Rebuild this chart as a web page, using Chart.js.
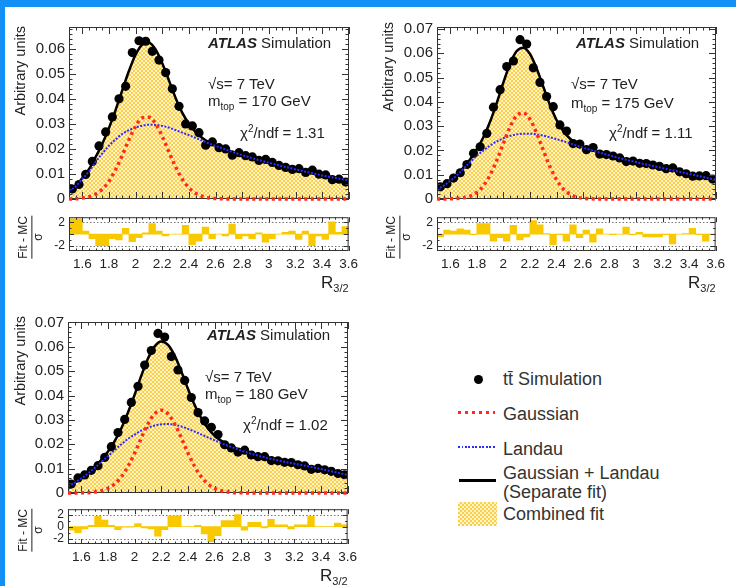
<!DOCTYPE html>
<html>
<head>
<meta charset="utf-8">
<script src="https://cdn.jsdelivr.net/npm/chart.js@4.4.0/dist/chart.umd.min.js"></script>
<style>
  html, body { margin: 0; padding: 0; background: #fff; }
  #page { position: relative; width: 736px; height: 586px; overflow: hidden;
          font-family: "Liberation Sans", Arial, sans-serif; color: #222; }
  .bar-top { position: absolute; left: 0; top: 0; width: 736px; height: 7px; background: #1390f5; }
  .bar-left { position: absolute; left: 0; top: 0; width: 5px; height: 586px; background: #1390f5; }
  canvas { position: absolute; }
  .t { position: absolute; white-space: nowrap; font-size: 15px; line-height: 1; }
  .t sub, .t sup { font-size: 10px; line-height: 0; }
  .atlas b { font-style: italic; }
  .vert { position: absolute; writing-mode: vertical-rl; transform: rotate(180deg);
          white-space: nowrap; font-size: 14.5px; line-height: 1; }
  .frac { position: absolute; writing-mode: vertical-rl; transform: rotate(180deg);
          font-size: 12px; line-height: 1.1; text-align: center; }
  .frac span { display: block; }
  .frac .num { border-block-end: 1px solid #222; padding-block-end: 1px; }
  .rlab { position: absolute; font-size: 17px; line-height: 1; white-space: nowrap; }
  .rlab sub { font-size: 11px; line-height: 0; }
  .leg { position: absolute; font-size: 18px; line-height: 1; white-space: nowrap; color: #333; }
  .sym { position: absolute; }
</style>
</head>
<body>
<div id="page">
  <div class="bar-top"></div>
  <div class="bar-left"></div>

  <canvas id="main170" width="354" height="198" style="left:9px;top:14px"></canvas>
  <canvas id="ratio170" width="354" height="69" style="left:9px;top:206px"></canvas>
  <canvas id="main175" width="353" height="198" style="left:377px;top:14px"></canvas>
  <canvas id="ratio175" width="353" height="69" style="left:377px;top:206px"></canvas>
  <canvas id="main180" width="354" height="197" style="left:8px;top:309px"></canvas>
  <canvas id="ratio180" width="354" height="70" style="left:8px;top:498px"></canvas>

  <!-- panel 1 -->
  <div class="vert" style="left:13px;top:26px">Arbitrary units</div>
  <div class="frac" style="left:17px;top:216px"><span class="num">Fit - MC</span><span>σ</span></div>
  <div class="t atlas" style="left:208px;top:35px"><b>ATLAS</b> Simulation</div>
  <div class="t" style="left:208px;top:76px">√s= 7 TeV</div>
  <div class="t" style="left:208px;top:93px">m<sub>top</sub> = 170 GeV</div>
  <div class="t" style="left:240px;top:125px">χ<sup>2</sup>/ndf = 1.31</div>
  <div class="rlab" style="left:321px;top:274px">R<sub>3/2</sub></div>

  <!-- panel 2 -->
  <div class="vert" style="left:381px;top:22px">Arbitrary units</div>
  <div class="frac" style="left:385px;top:216px"><span class="num">Fit - MC</span><span>σ</span></div>
  <div class="t atlas" style="left:576px;top:35px"><b>ATLAS</b> Simulation</div>
  <div class="t" style="left:571px;top:76px">√s= 7 TeV</div>
  <div class="t" style="left:571px;top:95px">m<sub>top</sub> = 175 GeV</div>
  <div class="t" style="left:609px;top:125px">χ<sup>2</sup>/ndf = 1.11</div>
  <div class="rlab" style="left:688px;top:274px">R<sub>3/2</sub></div>

  <!-- panel 3 -->
  <div class="vert" style="left:13px;top:316px">Arbitrary units</div>
  <div class="frac" style="left:17px;top:509px"><span class="num">Fit - MC</span><span>σ</span></div>
  <div class="t atlas" style="left:207px;top:327px"><b>ATLAS</b> Simulation</div>
  <div class="t" style="left:205px;top:369px">√s= 7 TeV</div>
  <div class="t" style="left:205px;top:386px">m<sub>top</sub> = 180 GeV</div>
  <div class="t" style="left:243px;top:417px">χ<sup>2</sup>/ndf = 1.02</div>
  <div class="rlab" style="left:320px;top:567px">R<sub>3/2</sub></div>

  <!-- legend -->
  <div class="sym" style="left:474px;top:375px;width:9px;height:9px;border-radius:50%;background:#000"></div>
  <div class="leg" style="left:503px;top:370px">tt̄ Simulation</div>
  <div class="sym" style="left:458px;top:411px;width:37px;height:3px;background:repeating-linear-gradient(90deg,#ff2a1a 0 3px,transparent 3px 7px)"></div>
  <div class="leg" style="left:503px;top:405px">Gaussian</div>
  <div class="sym" style="left:458px;top:446px;width:37px;height:2px;background:repeating-linear-gradient(90deg,#2b2bff 0 2px,transparent 2px 3.5px)"></div>
  <div class="leg" style="left:503px;top:440px">Landau</div>
  <div class="sym" style="left:459px;top:479px;width:37px;height:3px;background:#000"></div>
  <div class="leg" style="left:503px;top:464px">Gaussian + Landau</div>
  <div class="leg" style="left:503px;top:483px">(Separate fit)</div>
  <div class="sym" style="left:458px;top:502px;width:39px;height:24px;background:repeating-conic-gradient(#fbcf4a 0 25%,#fff3c8 0 50%);background-size:4px 4px"></div>
  <div class="leg" style="left:503px;top:505px">Combined fit</div>
</div>

<script>
// x positions: fit curves sampled every 0.05, MC bins of width 0.05
const fitX = [1.50, 1.55, 1.60, 1.65, 1.70, 1.75, 1.80, 1.85, 1.90, 1.95, 2.00, 2.05, 2.10, 2.15, 2.20,
  2.25, 2.30, 2.35, 2.40, 2.45, 2.50, 2.55, 2.60, 2.65, 2.70, 2.75, 2.80, 2.85, 2.90, 2.95, 3.00,
  3.05, 3.10, 3.15, 3.20, 3.25, 3.30, 3.35, 3.40, 3.45, 3.50, 3.55, 3.60];
const binX = [1.525, 1.575, 1.625, 1.675, 1.725, 1.775, 1.825, 1.875, 1.925, 1.975, 2.025, 2.075,
  2.125, 2.175, 2.225, 2.275, 2.325, 2.375, 2.425, 2.475, 2.525, 2.575, 2.625, 2.675, 2.725, 2.775,
  2.825, 2.875, 2.925, 2.975, 3.025, 3.075, 3.125, 3.175, 3.225, 3.275, 3.325, 3.375, 3.425, 3.475,
  3.525, 3.575];

// tick labels
const xTicks = [1.6, 1.8, 2.0, 2.2, 2.4, 2.6, 2.8, 3.0, 3.2, 3.4, 3.6];
const yTicks170 = [0, 0.01, 0.02, 0.03, 0.04, 0.05, 0.06];
const yTicks = [0, 0.01, 0.02, 0.03, 0.04, 0.05, 0.06, 0.07];
const ratioTicks = [-2, 0, 2];

// m_top = 170 GeV
const mc170 = [0.0040, 0.0058, 0.0098, 0.0150, 0.0212, 0.0268, 0.0328, 0.0400, 0.0450, 0.0585,
  0.0632, 0.0630, 0.0590, 0.0555, 0.0505, 0.0440, 0.0370, 0.0300, 0.0292, 0.0265,
  0.0215, 0.0228, 0.0205, 0.0200, 0.0175, 0.0185, 0.0173, 0.0168, 0.0154, 0.0158,
  0.0146, 0.0134, 0.0126, 0.0118, 0.0121, 0.0106, 0.0115, 0.0099, 0.0096, 0.0077,
  0.0079, 0.0068];
const gaus170 = [0.0000, 0.0001, 0.0004, 0.0009, 0.0020, 0.0039, 0.0071, 0.0118, 0.0175, 0.0237,
  0.0291, 0.0324, 0.0327, 0.0300, 0.0249, 0.0188, 0.0128, 0.0079, 0.0045, 0.0023, 0.0011,
  0.0004, 0.0002, 0.0001, 0, 0, 0, 0, 0, 0, 0, 0, 0, 0, 0, 0, 0, 0, 0, 0, 0, 0, 0];
const landau170 = [0.0033, 0.0050, 0.0080, 0.0110, 0.0148, 0.0182, 0.0213, 0.0238, 0.0260, 0.0275,
  0.0286, 0.0293, 0.0297, 0.0296, 0.0292, 0.0285, 0.0275, 0.0265, 0.0255, 0.0244, 0.0233,
  0.0222, 0.0212, 0.0202, 0.0193, 0.0184, 0.0175, 0.0167, 0.0159, 0.0152, 0.0145, 0.0138,
  0.0131, 0.0125, 0.0118, 0.0112, 0.0106, 0.0100, 0.0094, 0.0089, 0.0084, 0.0079, 0.0074];
const total170 = [0.0033, 0.0051, 0.0084, 0.0119, 0.0168, 0.0221, 0.0284, 0.0356, 0.0435, 0.0512,
  0.0577, 0.0617, 0.0624, 0.0596, 0.0541, 0.0473, 0.0403, 0.0344, 0.0300, 0.0267, 0.0244,
  0.0226, 0.0214, 0.0203, 0.0193, 0.0184, 0.0175, 0.0167, 0.0159, 0.0152, 0.0145, 0.0138,
  0.0131, 0.0125, 0.0118, 0.0112, 0.0106, 0.0100, 0.0094, 0.0089, 0.0084, 0.0079, 0.0074];
const ratio170 = [2.6, 2.6, 0.5, -0.8, -2.0, -2.0, -0.8, -1.0, 1.0, -1.3, -0.6, 0.2, 1.8, 0.5, -0.3,
  0.0, 0.0, 1.5, -1.8, -1.2, 1.2, -0.8, 0.0, -0.3, 1.7, -0.8, -0.3, -0.8, 0.2, -1.4, -0.8, 0.0,
  0.3, 0.5, -0.9, 0.5, -2.0, -0.3, -0.9, 2.1, 0.3, 1.3];

// m_top = 175 GeV
const mc175 = [0.0050, 0.0063, 0.0086, 0.0108, 0.0142, 0.0188, 0.0215, 0.0270, 0.0378, 0.0450,
  0.0545, 0.0568, 0.0656, 0.0638, 0.0540, 0.0480, 0.0422, 0.0380, 0.0305, 0.0280,
  0.0228, 0.0226, 0.0203, 0.0212, 0.0185, 0.0183, 0.0177, 0.0169, 0.0154, 0.0156,
  0.0147, 0.0146, 0.0140, 0.0134, 0.0125, 0.0128, 0.0112, 0.0104, 0.0094, 0.0095,
  0.0096, 0.0082];
const gaus175 = [0.0000, 0.0000, 0.0001, 0.0002, 0.0005, 0.0012, 0.0027, 0.0055, 0.0099, 0.0159,
  0.0230, 0.0297, 0.0343, 0.0354, 0.0328, 0.0271, 0.0201, 0.0133, 0.0079, 0.0042, 0.0020,
  0.0008, 0.0003, 0.0001, 0, 0, 0, 0, 0, 0, 0, 0, 0, 0, 0, 0, 0, 0, 0, 0, 0, 0, 0];
const landau175 = [0.0038, 0.0055, 0.0075, 0.0098, 0.0125, 0.0152, 0.0178, 0.0200, 0.0220, 0.0237,
  0.0250, 0.0260, 0.0266, 0.0269, 0.0269, 0.0266, 0.0261, 0.0254, 0.0246, 0.0238, 0.0229,
  0.0220, 0.0211, 0.0203, 0.0195, 0.0187, 0.0179, 0.0172, 0.0165, 0.0158, 0.0152, 0.0145,
  0.0139, 0.0133, 0.0127, 0.0121, 0.0115, 0.0109, 0.0103, 0.0097, 0.0091, 0.0085, 0.0079];
const total175 = [0.0038, 0.0055, 0.0076, 0.0100, 0.0130, 0.0164, 0.0205, 0.0255, 0.0319, 0.0396,
  0.0480, 0.0557, 0.0609, 0.0623, 0.0597, 0.0537, 0.0462, 0.0387, 0.0325, 0.0280, 0.0249,
  0.0228, 0.0214, 0.0204, 0.0195, 0.0187, 0.0179, 0.0172, 0.0165, 0.0158, 0.0152, 0.0145,
  0.0139, 0.0133, 0.0127, 0.0121, 0.0115, 0.0109, 0.0103, 0.0097, 0.0091, 0.0085, 0.0079];
const ratio175 = [-0.5, 0.7, 0.5, 0.9, 0.7, -0.1, 1.8, 1.8, -1.2, -0.6, -1.2, 1.5, -1.0, -0.5, 2.3,
  1.6, 0.1, -1.8, -0.1, -1.2, 1.6, -0.6, 0.7, -1.4, 0.9, 0.0, -0.1, 0.0, 1.2, -0.1, 0.3, -0.5,
  -0.5, -0.5, -0.1, -1.7, 0.0, 0.1, 1.0, -0.1, -1.2, -0.1];

// m_top = 180 GeV
const mc180 = [0.0037, 0.0062, 0.0074, 0.0093, 0.0112, 0.0146, 0.0190, 0.0248, 0.0302, 0.0372,
  0.0438, 0.0525, 0.0585, 0.0655, 0.0640, 0.0560, 0.0505, 0.0462, 0.0392, 0.0330,
  0.0296, 0.0270, 0.0240, 0.0198, 0.0185, 0.0168, 0.0176, 0.0156, 0.0149, 0.0149,
  0.0133, 0.0132, 0.0126, 0.0125, 0.0116, 0.0111, 0.0097, 0.0101, 0.0095, 0.0089,
  0.0080, 0.0075];
const gaus180 = [0.0000, 0.0000, 0.0001, 0.0001, 0.0004, 0.0009, 0.0019, 0.0037, 0.0066, 0.0109,
  0.0164, 0.0226, 0.0284, 0.0325, 0.0340, 0.0325, 0.0284, 0.0226, 0.0164, 0.0109, 0.0066,
  0.0037, 0.0019, 0.0009, 0.0004, 0.0001, 0.0001, 0, 0, 0, 0, 0, 0, 0, 0, 0, 0, 0, 0, 0, 0, 0, 0];
const landau180 = [0.0028, 0.0042, 0.0060, 0.0080, 0.0103, 0.0127, 0.0151, 0.0176, 0.0200, 0.0222,
  0.0240, 0.0256, 0.0268, 0.0277, 0.0282, 0.0283, 0.0280, 0.0273, 0.0263, 0.0252, 0.0240,
  0.0228, 0.0216, 0.0205, 0.0194, 0.0184, 0.0174, 0.0165, 0.0157, 0.0150, 0.0143, 0.0137,
  0.0131, 0.0125, 0.0120, 0.0115, 0.0110, 0.0104, 0.0098, 0.0092, 0.0086, 0.0080, 0.0074];
const total180 = [0.0028, 0.0042, 0.0061, 0.0081, 0.0107, 0.0136, 0.0170, 0.0213, 0.0266, 0.0331,
  0.0404, 0.0482, 0.0552, 0.0602, 0.0622, 0.0608, 0.0564, 0.0499, 0.0427, 0.0361, 0.0306,
  0.0265, 0.0235, 0.0214, 0.0198, 0.0185, 0.0175, 0.0165, 0.0157, 0.0150, 0.0143, 0.0137,
  0.0131, 0.0125, 0.0120, 0.0115, 0.0110, 0.0104, 0.0098, 0.0092, 0.0086, 0.0080, 0.0074];
const ratio180 = [-0.6, -1.0, -0.4, 0.2, 1.7, 1.1, 0.2, -0.5, -0.1, -0.1, 0.5, -0.2, -0.4, -1.6, -0.5,
  1.8, 1.8, 0.0, 0.0, 0.2, -1.2, -2.5, -1.5, 1.0, 1.0, 2.0, -0.6, 0.7, 0.7, -0.2, 1.2, 0.3,
  0.3, -0.4, 0.3, 0.3, 1.7, 0.0, 0.0, 0.0, 0.6, 0.3];

const FONT = '"Liberation Sans", Arial, sans-serif';
const INK = '#222';

const pts = (xs, ys) => xs.map((x, i) => ({ x, y: ys[i] }));

function drawFrame(chart, opts) {
  const { ctx, chartArea: a, scales: { x, y } } = chart;
  ctx.save();
  ctx.strokeStyle = '#333';
  ctx.lineWidth = 1;
  ctx.strokeRect(a.left + 0.5, a.top + 0.5, a.width - 1, a.height - 1);
  ctx.beginPath();
  const isMajor = (v, step) => Math.abs(v / step - Math.round(v / step)) < 1e-6;
  for (let i = 0; ; i++) {
    const v = x.min + i * opts.xMinor;
    if (v > x.max + 1e-9) break;
    const len = isMajor(v, opts.xMajor) ? opts.xLen : opts.xLen / 2;
    const px = Math.round(x.getPixelForValue(v)) + 0.5;
    ctx.moveTo(px, a.bottom); ctx.lineTo(px, a.bottom - len);
    ctx.moveTo(px, a.top); ctx.lineTo(px, a.top + len);
  }
  const y0 = Math.ceil(y.min / opts.yMinor - 1e-6) * opts.yMinor;
  for (let i = 0; ; i++) {
    const v = y0 + i * opts.yMinor;
    if (v > y.max + 1e-9) break;
    const len = isMajor(v, opts.yMajor) ? opts.yLen : opts.yLen / 2;
    const py = Math.round(y.getPixelForValue(v)) + 0.5;
    ctx.moveTo(a.left, py); ctx.lineTo(a.left + len, py);
    ctx.moveTo(a.right, py); ctx.lineTo(a.right - len, py);
  }
  ctx.stroke();
  ctx.restore();
}

// ROOT-like frame: closed box with inward ticks, optional dotted reference lines.
// In the main pads the frame goes under the Gaussian so its zero line stays visible.
const framePlugin = {
  id: 'frame',
  beforeDatasetsDraw(chart, args, opts) {
    const { ctx, chartArea: a, scales: { y } } = chart;
    ctx.save();
    ctx.strokeStyle = '#777';
    ctx.lineWidth = 1;
    ctx.setLineDash([1.5, 2]);
    (opts.refLines || []).forEach(v => {
      const py = Math.round(y.getPixelForValue(v)) + 0.5;
      ctx.beginPath(); ctx.moveTo(a.left, py); ctx.lineTo(a.right, py); ctx.stroke();
    });
    ctx.restore();
  },
  beforeDatasetDraw(chart, args, opts) {
    if (opts.before === args.index) drawFrame(chart, opts);
  },
  afterDatasetsDraw(chart, args, opts) {
    if (opts.before === undefined) drawFrame(chart, opts);
  }
};
Chart.register(framePlugin);

function hatchPattern(ctx) {
  const c = document.createElement('canvas');
  c.width = 4; c.height = 4;
  const g = c.getContext('2d');
  g.fillStyle = '#fff3c8'; g.fillRect(0, 0, 4, 4);
  g.fillStyle = '#fbcf4a'; g.fillRect(0, 0, 2, 2); g.fillRect(2, 2, 2, 2);
  return ctx.createPattern(c, 'repeat');
}

function mainChart(id, p) {
  const ctx = document.getElementById(id).getContext('2d');
  const curve = { pointRadius: 0, fill: false, cubicInterpolationMode: 'monotone' };
  return new Chart(ctx, {
    type: 'line',
    data: {
      datasets: [
        { ...curve, label: 'Gaussian', data: pts(fitX, p.gaus), borderColor: '#ff2a1a',
          borderWidth: 3.5, borderDash: [3, 3.5], clip: 4 },
        { ...curve, label: 'Landau', data: pts(fitX, p.landau), borderColor: '#2b2bff',
          borderWidth: 2, borderDash: [2, 1.5] },
        { label: 'tt̄ Simulation', data: pts(binX, p.mc), showLine: false, pointRadius: 4.6,
          pointBackgroundColor: '#000', pointBorderColor: '#000', pointBorderWidth: 0 },
        { ...curve, label: 'Gaussian + Landau', data: pts(fitX, p.total), borderColor: '#000',
          borderWidth: 2.5 },
        { ...curve, label: 'Combined fit', data: pts(fitX, p.total), borderColor: '#f3c000',
          borderWidth: 2, backgroundColor: hatchPattern(ctx), fill: 'origin' }
      ]
    },
    options: {
      responsive: false,
      animation: false,
      events: [],
      layout: { padding: { top: 10, right: 14, bottom: 10, left: 0 } },
      plugins: {
        legend: { display: false },
        tooltip: { enabled: false },
        frame: { before: 0, xMinor: 0.05, xMajor: 0.2, xLen: 7, yMinor: 0.002, yMajor: 0.01, yLen: 7 }
      },
      scales: {
        x: { type: 'linear', min: 1.5, max: 3.6, display: false },
        y: {
          min: 0, max: p.yMax,
          grid: { display: false, drawTicks: false },
          border: { display: false },
          afterFit: s => { s.width = 60; },
          afterBuildTicks: s => { s.ticks = p.yTicks.map(v => ({ value: v })); },
          ticks: { font: { family: FONT, size: 15 }, color: INK, padding: 4,
                   callback: v => String(v) }
        }
      }
    }
  });
}

function ratioChart(id, ratio) {
  const ctx = document.getElementById(id).getContext('2d');
  return new Chart(ctx, {
    type: 'bar',
    data: {
      datasets: [{ label: '(Fit - MC)/σ', data: pts(binX, ratio), backgroundColor: '#f9c900',
                   borderWidth: 0, barPercentage: 1, categoryPercentage: 1 }]
    },
    options: {
      responsive: false,
      animation: false,
      events: [],
      layout: { padding: { top: 10, right: 14, bottom: 2, left: 0 } },
      plugins: {
        legend: { display: false },
        tooltip: { enabled: false },
        frame: { xMinor: 0.05, xMajor: 0.2, xLen: 5, yMinor: 1, yMajor: 2, yLen: 5,
                 refLines: [-2, 2] }
      },
      scales: {
        x: {
          type: 'linear', min: 1.5, max: 3.6, offset: false,
          grid: { display: false, drawTicks: false },
          border: { display: false },
          afterFit: s => { s.height = 22; },
          afterBuildTicks: s => { s.ticks = xTicks.map(v => ({ value: v })); },
          ticks: { font: { family: FONT, size: 13.5 }, color: INK, padding: 5,
                   autoSkip: false, maxRotation: 0, callback: v => String(v) }
        },
        y: {
          min: -2.9, max: 2.9,
          grid: { display: false, drawTicks: false },
          border: { display: false },
          afterFit: s => { s.width = 60; },
          afterBuildTicks: s => { s.ticks = ratioTicks.map(v => ({ value: v })); },
          ticks: { font: { family: FONT, size: 12 }, color: INK, padding: 4,
                   callback: v => String(v) }
        }
      }
    }
  });
}

mainChart('main170', { mc: mc170, gaus: gaus170, landau: landau170, total: total170,
                       yMax: 0.0687, yTicks: yTicks170 });
ratioChart('ratio170', ratio170);
mainChart('main175', { mc: mc175, gaus: gaus175, landau: landau175, total: total175,
                       yMax: 0.0708, yTicks: yTicks });
ratioChart('ratio175', ratio175);
mainChart('main180', { mc: mc180, gaus: gaus180, landau: landau180, total: total180,
                       yMax: 0.0702, yTicks: yTicks });
ratioChart('ratio180', ratio180);
</script>
</body>
</html>
